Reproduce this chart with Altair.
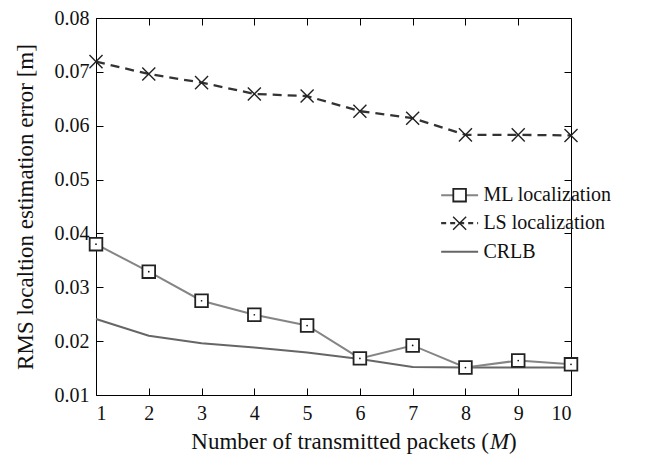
import altair as alt
import pandas as pd

# ---- data ----
M = [1, 2, 3, 4, 5, 6, 7, 8, 9, 10]
ml = [0.0380, 0.0329, 0.0275, 0.0249, 0.0229, 0.0168, 0.0192, 0.0151, 0.0164, 0.0157]
ls = [0.0719, 0.0696, 0.0680, 0.0659, 0.0655, 0.0627, 0.0614, 0.0583, 0.0583, 0.0582]
crlb = [0.0241, 0.0210, 0.0196, 0.0188, 0.0179, 0.0167, 0.0152, 0.0151, 0.0151, 0.0151]
series = ["ML localization", "LS localization", "CRLB"]
x_ticks = [1, 2, 3, 4, 5, 6, 7, 8, 9, 10]
y_ticks = [0.01, 0.02, 0.03, 0.04, 0.05, 0.06, 0.07, 0.08]
x_title_parts = ["Number of transmitted packets (", "M", ")"]
y_title = "RMS localtion estimation error [m]"

# ---- layout constants ----
W, H = 475, 377
LEG_X1, LEG_X2, LEG_XM, LEG_XT = 7.54, 8.24, 7.89, 8.34
LEG_Y = [0.0471, 0.0419, 0.0366]
XT_X0, XT_WM, XT_Y = 393, 20, H + 54

FONT = "Liberation Serif"
xs = alt.Scale(domain=[1, 10], nice=False, zero=False)
ys = alt.Scale(domain=[0.01, 0.08], nice=False, zero=False)

df_ml = pd.DataFrame({"M": M, "v": ml})
df_ls = pd.DataFrame({"M": M, "v": ls})
df_cr = pd.DataFrame({"M": M, "v": crlb})

common_axis = dict(domain=False, grid=False, ticks=True, tickSize=7, offset=-7,
                   tickColor="black", tickWidth=1, labelFont=FONT, labelFontSize=20,
                   labelColor="#111", titleFont=FONT, titleFontSize=23,
                   titleFontWeight="normal", titleColor="#111")

x_bottom = alt.Axis(orient="bottom", values=x_ticks, format="d", labelPadding=8,
                    title=None, **common_axis)
y_left = alt.Axis(orient="left", values=y_ticks, format=".2f", labelPadding=7,
                  title=y_title, titlePadding=17, **common_axis)
x_top = alt.Axis(orient="top", values=x_ticks, labels=False, title=None, **common_axis)
y_right = alt.Axis(orient="right", values=y_ticks, labels=False, title=None, **common_axis)


def enc(ch, xa=None, ya=None):
    return ch.encode(x=alt.X("M:Q", scale=xs, axis=xa), y=alt.Y("v:Q", scale=ys, axis=ya))


crlb_line = enc(alt.Chart(df_cr).mark_line(color="#666666", strokeWidth=2), x_bottom, y_left)
crlb_top = enc(alt.Chart(df_cr).mark_line(color="#666666", strokeWidth=2, opacity=0), x_top, y_right)
ml_line = enc(alt.Chart(df_ml).mark_line(color="#858585", strokeWidth=2))
ml_pts = enc(alt.Chart(df_ml).mark_point(shape="square", size=160, filled=True, fill="white",
                                          stroke="#222", strokeWidth=1.8, opacity=1))
ml_dot = enc(alt.Chart(df_ml).mark_point(shape="circle", size=3, filled=True, color="#111", opacity=1))
ls_line = enc(alt.Chart(df_ls).mark_line(color="#333333", strokeWidth=2.3, strokeDash=[9, 6]))
XPATH = "M-1,-1L1,1M-1,1L1,-1"
ls_pts = enc(alt.Chart(df_ls).mark_point(shape=XPATH, size=170, filled=False, stroke="#222",
                                          strokeWidth=1.4, opacity=1))

# ---- legend ----
leg = pd.DataFrame({"name": series, "x1": [LEG_X1] * 3, "x2": [LEG_X2] * 3,
                    "xm": [LEG_XM] * 3, "xt": [LEG_XT] * 3, "y": LEG_Y})


def leg_rule(i, **kw):
    return alt.Chart(leg.iloc[[i]]).mark_rule(**kw).encode(
        x=alt.X("x1:Q", scale=xs, axis=None), x2="x2:Q", y=alt.Y("y:Q", scale=ys, axis=None))


def leg_pt(i, **kw):
    return alt.Chart(leg.iloc[[i]]).mark_point(**kw).encode(
        x=alt.X("xm:Q", scale=xs, axis=None), y=alt.Y("y:Q", scale=ys, axis=None))


leg_r1 = leg_rule(0, color="#858585", strokeWidth=2)
leg_p1 = leg_pt(0, shape="square", size=160, filled=True, fill="white", stroke="#222",
                strokeWidth=1.8, opacity=1)
leg_r2 = leg_rule(1, color="#333333", strokeWidth=2.3, strokeDash=[5, 4])
leg_p2 = leg_pt(1, shape=XPATH, size=170, filled=False, stroke="#222", strokeWidth=1.4, opacity=1)
leg_r3 = leg_rule(2, color="#666666", strokeWidth=2)
leg_txt = alt.Chart(leg).mark_text(align="left", baseline="middle", font=FONT, fontSize=20,
                                   color="#111").encode(
    x=alt.X("xt:Q", scale=xs, axis=None), y=alt.Y("y:Q", scale=ys, axis=None), text="name:N")

# ---- x title with italic M ----
tdf = pd.DataFrame({"t": x_title_parts})
t1 = alt.Chart(tdf.iloc[[0]]).mark_text(align="right", baseline="alphabetic", font=FONT,
                                         fontSize=23, color="#111").encode(
    x=alt.value(XT_X0), y=alt.value(XT_Y), text="t:N")
t2 = alt.Chart(tdf.iloc[[1]]).mark_text(align="left", baseline="alphabetic", font=FONT,
                                         fontSize=23, fontStyle="italic", color="#111").encode(
    x=alt.value(XT_X0 + 1), y=alt.value(XT_Y), text="t:N")
t3 = alt.Chart(tdf.iloc[[2]]).mark_text(align="left", baseline="alphabetic", font=FONT,
                                         fontSize=23, color="#111").encode(
    x=alt.value(XT_X0 + XT_WM), y=alt.value(XT_Y), text="t:N")

chart = alt.layer(
    crlb_line, crlb_top, ml_line, ml_pts, ml_dot, ls_line, ls_pts,
    leg_r1, leg_p1, leg_r2, leg_p2, leg_r3, leg_txt, t1, t2, t3
).resolve_axis(x="independent", y="independent").properties(
    width=W, height=H,
    autosize=alt.AutoSizeParams(type="none"),
    padding={"left": 88, "top": 10, "right": 60, "bottom": 64},
    background="white",
).configure_view(stroke="black", strokeWidth=1)

chart.save("out.html", embed_options={"renderer": "svg", "actions": False})
